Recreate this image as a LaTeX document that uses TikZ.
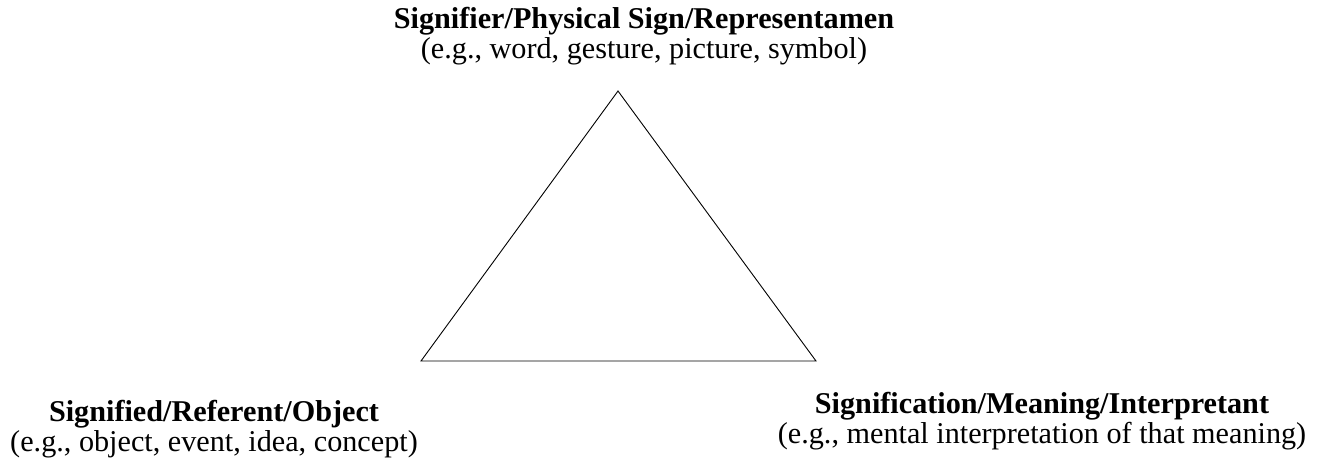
\documentclass[tikz,border=0pt]{standalone}
\usepackage{fontspec}
\setmainfont{Liberation Serif}
\begin{document}
\begin{tikzpicture}[x=1pt, y=-1pt,
	label/.style={align=center, inner sep=0pt, font=\fontsize{30.2}{30.5}\selectfont}]
			\useasboundingbox (0,0) rectangle (1323,472);
			%Sommets du triangle
			\coordinate (Sign) at (618,91);
			\coordinate (Object) at (421,361);
			\coordinate (Interp) at (816,361);
			%Textes
			\node[label] (TSign) at (644,36) {\textbf{Signifier/Physical Sign/Representamen}\\(e.g., word, gesture, picture, symbol)};
			\node[label] (TObject) at (214,429) {\textbf{Signified/Referent/Object}\\(e.g., object, event, idea, concept)};
			\node[label] (TInterp) at (1042,421) {\textbf{Signification/Meaning/Interpretant}\\(e.g., mental interpretation of that meaning)};
			%Arêtes
			\draw[line width=0.9pt] (Sign) -- (Object) -- (Interp) -- cycle;
		\end{tikzpicture}
\end{document}
